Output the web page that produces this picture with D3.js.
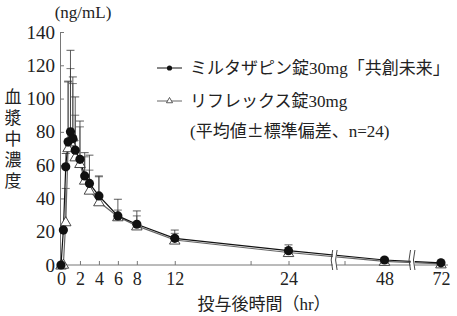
<!DOCTYPE html>
<html>
<head>
<meta charset="utf-8">
<script src="https://cdn.jsdelivr.net/npm/d3@7"></script>
<style>
  body { margin: 0; background: #fff; }
  svg { display: block; }
  text { font-family: "Liberation Serif", "Noto Sans CJK JP", serif; fill: #222; }
</style>
</head>
<body>
<div id="chart"></div>
<script>
// 採血時間 (hr)
const hours = [0, 0.25, 0.5, 0.75, 1, 1.25, 1.5, 2, 2.5, 3, 4, 6, 8, 12, 24, 48, 72];

// ミルタザピン錠30mg「共創未来」
const mirtaMean = [0, 21, 59, 74, 80, 76, 69, 63.5, 53.5, 49, 41.5, 29.5, 24.5, 16, 8.6, 3, 1.3];
const mirtaSd   = [0, 0, 8, 36, 49, 37, 32, 23, 14, 17, 12, 10, 8, 5, 3.5, 1.2, 0.6];

// リフレックス錠30mg
const reflexMean = [0, 0.5, 26, 70.5, 74, 77, 65, 61, 51, 45, 38, 29, 23.5, 15, 7.5, 2.2, 0.7];
const reflexSd   = [0, 0.3, 20, 40, 44, 32, 25, 22, 14, 12, 15, 4, 6, 4, 3, 1, 0.4];

const yTicks = [0, 20, 40, 60, 80, 100, 120, 140];
const xTicks = [0, 2, 4, 6, 8, 12, 20, 24, 38, 48, 72];
const xLabelled = [0, 2, 4, 6, 8, 12, 24, 48, 72];
const axisBreaks = [35.6, 60];

const legendNames = ["ミルタザピン錠30mg「共創未来」", "リフレックス錠30mg"];
const legendNote = ["(平均値", "±", "標準偏差、n=24)"];
const yTitle = "血漿中濃度";
const yUnit = "(ng/mL)";
const xTitle = "投与後時間（hr）";

const width = 457, height = 316;

const svg = d3.select("#chart").append("svg")
    .attr("width", width)
    .attr("height", height);

// 横軸は24時間以降を圧縮した折れ線スケール
const x = d3.scaleLinear()
    .domain([0, 24, 48, 75])
    .range([61, 288.5, 384.5, 448]);

const y = d3.scaleLinear()
    .domain([0, 140])
    .range([265, 32]);

const axisColor = "#777";

// y axis
const yAxis = svg.append("g")
    .attr("transform", "translate(60,0)")
    .call(d3.axisLeft(y).tickValues(yTicks).tickSizeInner(-4).tickSizeOuter(0).tickPadding(5));
yAxis.select(".domain").attr("stroke", axisColor);
yAxis.selectAll(".tick line").attr("stroke", axisColor);
yAxis.selectAll("text").style("font-size", "19px").attr("fill", "#222");

// x axis
const xAxis = svg.append("g")
    .attr("transform", "translate(0,265)")
    .call(d3.axisBottom(x).tickValues(xTicks).tickSizeInner(-4).tickSizeOuter(0).tickPadding(7)
        .tickFormat(d => xLabelled.includes(d) ? d : ""));
xAxis.select(".domain").attr("stroke", axisColor).attr("d", `M60,0H${x(75)}`);
xAxis.selectAll(".tick line").attr("stroke", axisColor);
xAxis.selectAll("text").style("font-size", "18px").attr("fill", "#222");

// error bars (upper SD only)
function errorBars(means, sds, color) {
    const g = svg.append("g").attr("stroke", color).attr("stroke-width", 0.8);
    hours.forEach((h, i) => {
        if (sds[i] <= 0.5) return;
        const cx = x(h), top = y(means[i] + sds[i]);
        g.append("line").attr("x1", cx).attr("x2", cx)
            .attr("y1", y(means[i])).attr("y2", top);
        g.append("line").attr("x1", cx - 4).attr("x2", cx + 4)
            .attr("y1", top).attr("y2", top);
    });
}
errorBars(reflexMean, reflexSd, "#555");
errorBars(mirtaMean, mirtaSd, "#333");

const line = d3.line()
    .x((d, i) => x(hours[i]))
    .y(d => y(d));

svg.append("path").datum(reflexMean)
    .attr("fill", "none").attr("stroke", "#666").attr("stroke-width", 1.2)
    .attr("d", line);
svg.append("path").datum(mirtaMean)
    .attr("fill", "none").attr("stroke", "#111").attr("stroke-width", 1.2)
    .attr("d", line);

const triangle = d3.symbol().type(d3.symbolTriangle);

svg.append("g").selectAll("path").data(reflexMean).join("path")
    .attr("transform", (d, i) => `translate(${x(hours[i])},${y(d) + 1})`)
    .attr("d", triangle.size(48))
    .attr("fill", "#fff").attr("stroke", "#333").attr("stroke-width", 0.9);

svg.append("g").selectAll("circle").data(mirtaMean).join("circle")
    .attr("cx", (d, i) => x(hours[i]))
    .attr("cy", d => y(d))
    .attr("r", 4.6)
    .attr("fill", "#111");

// 軸の省略記号
axisBreaks.forEach(b => {
    const bx = x(b);
    const g = svg.append("g");
    g.append("rect").attr("x", bx - 2).attr("y", 249).attr("width", 4).attr("height", 22)
        .attr("fill", "#fff");
    [-2.2, 2.2].forEach(off => {
        g.append("path")
            .attr("d", `M${bx + off},250 Q${bx + off - 3},260 ${bx + off},270`)
            .attr("fill", "none").attr("stroke", "#333").attr("stroke-width", 0.9);
    });
});

// titles
svg.append("text").attr("x", 83).attr("y", 18).attr("text-anchor", "middle")
    .style("font-size", "17px").text(yUnit);

svg.append("g").selectAll("text").data(yTitle.split("")).join("text")
    .attr("x", 13).attr("y", (d, i) => 103 + i * 21)
    .attr("text-anchor", "middle")
    .style("font-size", "17px")
    .text(d => d);

svg.append("text").attr("x", 264).attr("y", 310).attr("text-anchor", "middle")
    .style("font-size", "17px").text(xTitle);

// legend
const legend = svg.append("g").attr("transform", "translate(157,0)");
legendNames.forEach((name, i) => {
    const ly = 68 + i * 33;
    legend.append("line").attr("x1", 0).attr("x2", 25).attr("y1", ly).attr("y2", ly)
        .attr("stroke", i === 0 ? "#111" : "#666").attr("stroke-width", 1);
    if (i === 0) {
        legend.append("circle").attr("cx", 12.5).attr("cy", ly).attr("r", 2.6).attr("fill", "#111");
    } else {
        legend.append("path").attr("transform", `translate(12.5,${ly})`)
            .attr("d", triangle.size(16)).attr("fill", "#fff").attr("stroke", "#333").attr("stroke-width", 0.8);
    }
    legend.append("text").attr("x", 33).attr("y", ly + 6)
        .style("font-size", "17px").text(name);
});
legend.append("text").attr("x", 33).attr("y", 137)
    .style("font-size", "17px")
    .selectAll("tspan").data(legendNote).join("tspan")
    .style("font-family", (d, i) => i === 1 ? "'Noto Sans CJK JP'" : null)
    .text(d => d);
</script>
</body>
</html>
